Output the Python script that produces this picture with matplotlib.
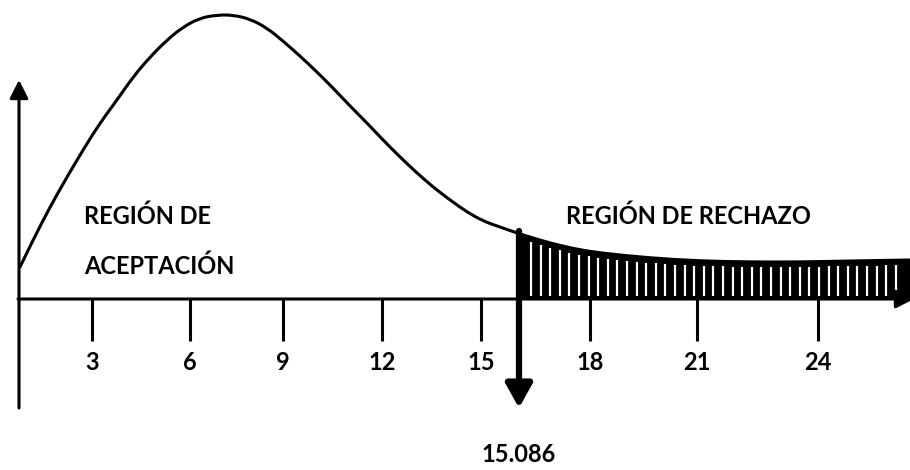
import numpy as np
import matplotlib
matplotlib.use('Agg')
import matplotlib.pyplot as plt
from matplotlib.path import Path
from matplotlib.patches import PathPatch

plt.rcParams['font.family'] = ['Lato', 'DejaVu Sans']

# schematic drawing space (same units as the 910x470 picture, y downwards)
curve_x = [20, 33, 50, 67, 83, 100, 117, 133, 150, 167, 183, 200, 217, 233, 250, 267,
           283, 300, 317, 333, 350, 367, 383, 400, 417, 433, 450, 467, 483, 500, 517,
           533, 550, 575, 600, 650, 700, 750, 800, 850, 910]
curve_y = [267, 240, 207, 177, 150, 123, 100, 77, 57, 40, 27, 18, 15, 15, 19, 28,
           41, 56, 72, 88, 106, 123, 140, 157, 173, 187, 200, 212, 221, 227, 233,
           238, 243, 249, 253, 258, 261, 262, 262, 261, 260]

tick_pos = [92, 190, 283, 382, 481, 590, 697, 818]
tick_labels = ['3', '6', '9', '12', '15', '18', '21', '24']

crit_pos = 519
crit_label = '15.086'
axis_y = 299

fig = plt.figure(figsize=(9.1, 4.7), dpi=100)
ax = fig.add_axes([0, 0, 1, 1])
ax.set_xlim(0, 910)
ax.set_ylim(470, 0)
ax.axis('off')

cx = np.array(curve_x, dtype=float)
cy = np.array(curve_y, dtype=float)

# zona de rechazo: negro con rayas blancas verticales
mask = cx >= crit_pos
rx = np.concatenate([[crit_pos], cx[mask]])
ry = np.concatenate([[np.interp(crit_pos, cx, cy)], cy[mask]])
ax.fill_between(rx, axis_y, ry, color='black', lw=0)
for sx in np.arange(crit_pos + 12, 902, 9.6):
    top = np.interp(sx, cx, cy) + 5
    ax.plot([sx, sx], [axis_y - 3, top], color='white', lw=1.6, solid_capstyle='butt')

# curva (bezier cuadrática por los puntos leídos, para que no se vean quiebres)
pts = np.column_stack([cx, cy])
verts = [pts[0]]
codes = [Path.MOVETO]
for i in range(1, len(pts) - 1):
    mid = (pts[i] + pts[i + 1]) / 2
    verts += [pts[i], mid]
    codes += [Path.CURVE3, Path.CURVE3]
verts.append(pts[-1])
codes.append(Path.LINETO)
ax.add_patch(PathPatch(Path(verts, codes), fill=False, edgecolor='black', lw=2.2,
                       capstyle='round'))

# ejes
ax.annotate('', xy=(19, 80), xytext=(19, 408), annotation_clip=False,
            arrowprops=dict(arrowstyle='-|>,head_width=0.28,head_length=0.55',
                            lw=2.2, color='black', mutation_scale=20, shrinkA=0, shrinkB=0))
ax.annotate('', xy=(914, axis_y), xytext=(18, axis_y), annotation_clip=False,
            arrowprops=dict(arrowstyle='-|>,head_width=0.28,head_length=0.55',
                            lw=2.2, color='black', mutation_scale=20, shrinkA=0, shrinkB=0))

for p, lab in zip(tick_pos, tick_labels):
    ax.plot([p, p], [axis_y, 341], color='black', lw=2.2, solid_capstyle='butt')
    ax.text(p, 362, lab, ha='center', va='center', fontsize=17, fontweight='bold')

# valor crítico
ax.annotate('', xy=(crit_pos, 408), xytext=(crit_pos, 231), annotation_clip=False,
            arrowprops=dict(arrowstyle='-|>,head_width=0.4,head_length=0.72',
                            lw=4.5, color='black', mutation_scale=20, shrinkA=0, shrinkB=0))
ax.text(crit_pos, 455, crit_label, ha='center', va='center', fontsize=17, fontweight='bold')

ax.text(84, 216, 'REGIÓN DE', ha='left', va='center', fontsize=17, fontweight='bold')
ax.text(84, 266, 'ACEPTACIÓN', ha='left', va='center', fontsize=17, fontweight='bold')
ax.text(566, 216, 'REGIÓN DE RECHAZO', ha='left', va='center', fontsize=17, fontweight='bold')

fig.savefig('out.png', dpi=100)
